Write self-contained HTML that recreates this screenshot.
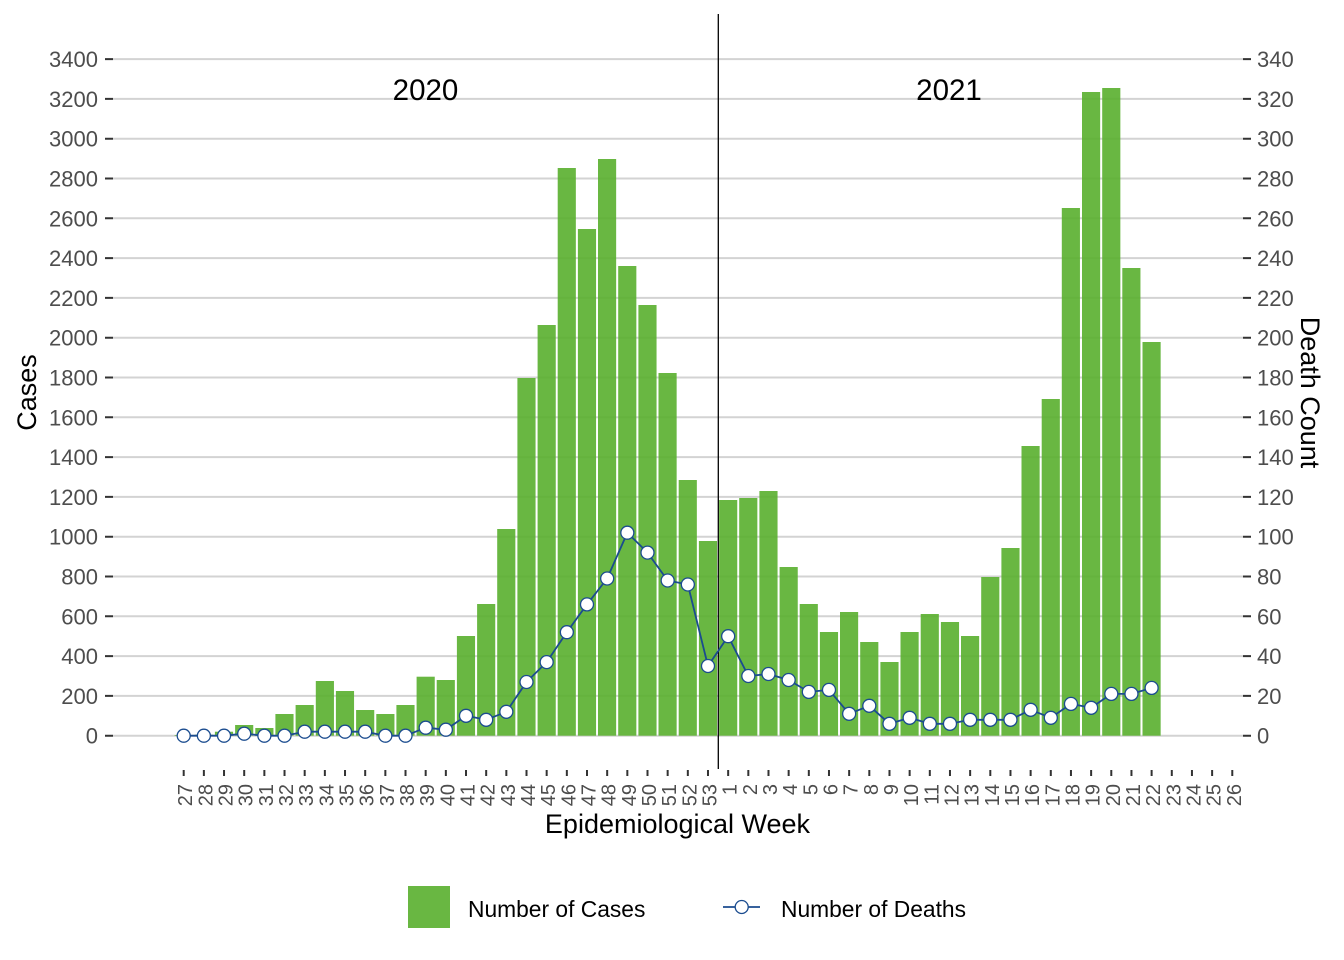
<!DOCTYPE html>
<html><head><meta charset="utf-8"><style>
html,body{margin:0;padding:0;background:#fff;}
svg{display:block;font-family:"Liberation Sans",Arial,sans-serif;}
</style></head><body>
<svg width="1344" height="960" viewBox="0 0 1344 960" xmlns="http://www.w3.org/2000/svg">
<rect width="1344" height="960" fill="#fff"/>
<g stroke="#d3d3d3" stroke-width="2">
<line x1="113" x2="1243" y1="735.7" y2="735.7"/>
<line x1="113" x2="1243" y1="695.9" y2="695.9"/>
<line x1="113" x2="1243" y1="656.1" y2="656.1"/>
<line x1="113" x2="1243" y1="616.3" y2="616.3"/>
<line x1="113" x2="1243" y1="576.5" y2="576.5"/>
<line x1="113" x2="1243" y1="536.7" y2="536.7"/>
<line x1="113" x2="1243" y1="496.9" y2="496.9"/>
<line x1="113" x2="1243" y1="457.1" y2="457.1"/>
<line x1="113" x2="1243" y1="417.3" y2="417.3"/>
<line x1="113" x2="1243" y1="377.5" y2="377.5"/>
<line x1="113" x2="1243" y1="337.7" y2="337.7"/>
<line x1="113" x2="1243" y1="297.9" y2="297.9"/>
<line x1="113" x2="1243" y1="258.1" y2="258.1"/>
<line x1="113" x2="1243" y1="218.3" y2="218.3"/>
<line x1="113" x2="1243" y1="178.5" y2="178.5"/>
<line x1="113" x2="1243" y1="138.7" y2="138.7"/>
<line x1="113" x2="1243" y1="98.9" y2="98.9"/>
<line x1="113" x2="1243" y1="59.1" y2="59.1"/>
</g>
<g fill="#59af2e" fill-opacity="0.9">
<rect x="174.6" y="735" width="18.15" height="0.7"/>
<rect x="194.8" y="734.7" width="18.15" height="1"/>
<rect x="214.9" y="731.7" width="18.15" height="4"/>
<rect x="235.1" y="725" width="18.15" height="10.7"/>
<rect x="255.3" y="728" width="18.15" height="7.7"/>
<rect x="275.4" y="714" width="18.15" height="21.7"/>
<rect x="295.6" y="705" width="18.15" height="30.7"/>
<rect x="315.8" y="681" width="18.15" height="54.7"/>
<rect x="335.9" y="691" width="18.15" height="44.7"/>
<rect x="356.1" y="710" width="18.15" height="25.7"/>
<rect x="376.3" y="714" width="18.15" height="21.7"/>
<rect x="396.4" y="705" width="18.15" height="30.7"/>
<rect x="416.6" y="676.7" width="18.15" height="59"/>
<rect x="436.7" y="680" width="18.15" height="55.7"/>
<rect x="456.9" y="636" width="18.15" height="99.7"/>
<rect x="477.1" y="604" width="18.15" height="131.7"/>
<rect x="497.2" y="529" width="18.15" height="206.7"/>
<rect x="517.4" y="378" width="18.15" height="357.7"/>
<rect x="537.6" y="325" width="18.15" height="410.7"/>
<rect x="557.7" y="168" width="18.15" height="567.7"/>
<rect x="577.9" y="229" width="18.15" height="506.7"/>
<rect x="598.0" y="159" width="18.15" height="576.7"/>
<rect x="618.2" y="266" width="18.15" height="469.7"/>
<rect x="638.4" y="305" width="18.15" height="430.7"/>
<rect x="658.5" y="373" width="18.15" height="362.7"/>
<rect x="678.7" y="480" width="18.15" height="255.7"/>
<rect x="698.9" y="541" width="18.15" height="194.7"/>
<rect x="719.1" y="500" width="18.15" height="235.7"/>
<rect x="739.2" y="498" width="18.15" height="237.7"/>
<rect x="759.4" y="491" width="18.15" height="244.7"/>
<rect x="779.6" y="567" width="18.15" height="168.7"/>
<rect x="799.7" y="604" width="18.15" height="131.7"/>
<rect x="819.9" y="632" width="18.15" height="103.7"/>
<rect x="840.0" y="612" width="18.15" height="123.7"/>
<rect x="860.2" y="642" width="18.15" height="93.7"/>
<rect x="880.4" y="662" width="18.15" height="73.7"/>
<rect x="900.5" y="632" width="18.15" height="103.7"/>
<rect x="920.7" y="614" width="18.15" height="121.7"/>
<rect x="940.9" y="622" width="18.15" height="113.7"/>
<rect x="961.0" y="636" width="18.15" height="99.7"/>
<rect x="981.2" y="577" width="18.15" height="158.7"/>
<rect x="1001.4" y="548" width="18.15" height="187.7"/>
<rect x="1021.5" y="446" width="18.15" height="289.7"/>
<rect x="1041.7" y="399" width="18.15" height="336.7"/>
<rect x="1061.8" y="208" width="18.15" height="527.7"/>
<rect x="1082.0" y="92" width="18.15" height="643.7"/>
<rect x="1102.2" y="88" width="18.15" height="647.7"/>
<rect x="1122.3" y="268" width="18.15" height="467.7"/>
<rect x="1142.5" y="342" width="18.15" height="393.7"/>
</g>
<line x1="718.3" x2="718.3" y1="14" y2="769" stroke="#000" stroke-width="1.3"/>
<polyline fill="none" stroke="#1b4c8f" stroke-width="1.8" stroke-linejoin="round" points="183.7,735.7 203.87,735.7 224.03,735.7 244.2,733.7 264.36,735.7 284.53,735.7 304.69,731.7 324.86,731.7 345.02,731.7 365.19,731.7 385.35,735.7 405.52,735.7 425.68,727.7 445.85,729.7 466.01,715.8 486.18,719.8 506.34,711.8 526.51,682.0 546.67,662.1 566.84,632.2 587.0,604.4 607.17,578.5 627.33,532.7 647.5,552.6 667.66,580.5 687.83,584.5 707.99,666.0 728.16,636.2 748.32,676.0 768.49,674.0 788.65,680.0 808.82,691.9 828.98,689.9 849.15,713.8 869.31,705.8 889.48,723.8 909.64,717.8 929.81,723.8 949.97,723.8 970.14,719.8 990.3,719.8 1010.47,719.8 1030.63,709.8 1050.8,717.8 1070.96,703.9 1091.13,707.8 1111.29,693.9 1131.46,693.9 1151.62,687.9"/>
<g fill="#fff" stroke="#1b4c8f" stroke-width="1.3">
<circle cx="183.7" cy="735.7" r="6.5"/>
<circle cx="203.87" cy="735.7" r="6.5"/>
<circle cx="224.03" cy="735.7" r="6.5"/>
<circle cx="244.2" cy="733.7" r="6.5"/>
<circle cx="264.36" cy="735.7" r="6.5"/>
<circle cx="284.53" cy="735.7" r="6.5"/>
<circle cx="304.69" cy="731.7" r="6.5"/>
<circle cx="324.86" cy="731.7" r="6.5"/>
<circle cx="345.02" cy="731.7" r="6.5"/>
<circle cx="365.19" cy="731.7" r="6.5"/>
<circle cx="385.35" cy="735.7" r="6.5"/>
<circle cx="405.52" cy="735.7" r="6.5"/>
<circle cx="425.68" cy="727.7" r="6.5"/>
<circle cx="445.85" cy="729.7" r="6.5"/>
<circle cx="466.01" cy="715.8" r="6.5"/>
<circle cx="486.18" cy="719.8" r="6.5"/>
<circle cx="506.34" cy="711.8" r="6.5"/>
<circle cx="526.51" cy="682.0" r="6.5"/>
<circle cx="546.67" cy="662.1" r="6.5"/>
<circle cx="566.84" cy="632.2" r="6.5"/>
<circle cx="587.0" cy="604.4" r="6.5"/>
<circle cx="607.17" cy="578.5" r="6.5"/>
<circle cx="627.33" cy="532.7" r="6.5"/>
<circle cx="647.5" cy="552.6" r="6.5"/>
<circle cx="667.66" cy="580.5" r="6.5"/>
<circle cx="687.83" cy="584.5" r="6.5"/>
<circle cx="707.99" cy="666.0" r="6.5"/>
<circle cx="728.16" cy="636.2" r="6.5"/>
<circle cx="748.32" cy="676.0" r="6.5"/>
<circle cx="768.49" cy="674.0" r="6.5"/>
<circle cx="788.65" cy="680.0" r="6.5"/>
<circle cx="808.82" cy="691.9" r="6.5"/>
<circle cx="828.98" cy="689.9" r="6.5"/>
<circle cx="849.15" cy="713.8" r="6.5"/>
<circle cx="869.31" cy="705.8" r="6.5"/>
<circle cx="889.48" cy="723.8" r="6.5"/>
<circle cx="909.64" cy="717.8" r="6.5"/>
<circle cx="929.81" cy="723.8" r="6.5"/>
<circle cx="949.97" cy="723.8" r="6.5"/>
<circle cx="970.14" cy="719.8" r="6.5"/>
<circle cx="990.3" cy="719.8" r="6.5"/>
<circle cx="1010.47" cy="719.8" r="6.5"/>
<circle cx="1030.63" cy="709.8" r="6.5"/>
<circle cx="1050.8" cy="717.8" r="6.5"/>
<circle cx="1070.96" cy="703.9" r="6.5"/>
<circle cx="1091.13" cy="707.8" r="6.5"/>
<circle cx="1111.29" cy="693.9" r="6.5"/>
<circle cx="1131.46" cy="693.9" r="6.5"/>
<circle cx="1151.62" cy="687.9" r="6.5"/>
</g>
<g stroke="#333" stroke-width="2">
<path d="M105 735.7H113M105 695.9H113M105 656.1H113M105 616.3H113M105 576.5H113M105 536.7H113M105 496.9H113M105 457.1H113M105 417.3H113M105 377.5H113M105 337.7H113M105 297.9H113M105 258.1H113M105 218.3H113M105 178.5H113M105 138.7H113M105 98.9H113M105 59.1H113"/>
<path d="M1243 735.7H1251M1243 695.9H1251M1243 656.1H1251M1243 616.3H1251M1243 576.5H1251M1243 536.7H1251M1243 496.9H1251M1243 457.1H1251M1243 417.3H1251M1243 377.5H1251M1243 337.7H1251M1243 297.9H1251M1243 258.1H1251M1243 218.3H1251M1243 178.5H1251M1243 138.7H1251M1243 98.9H1251M1243 59.1H1251"/>
<path d="M183.7 770V776M203.87 770V776M224.03 770V776M244.2 770V776M264.36 770V776M284.53 770V776M304.69 770V776M324.86 770V776M345.02 770V776M365.19 770V776M385.35 770V776M405.52 770V776M425.68 770V776M445.85 770V776M466.01 770V776M486.18 770V776M506.34 770V776M526.51 770V776M546.67 770V776M566.84 770V776M587.0 770V776M607.17 770V776M627.33 770V776M647.5 770V776M667.66 770V776M687.83 770V776M707.99 770V776M728.16 770V776M748.32 770V776M768.49 770V776M788.65 770V776M808.82 770V776M828.98 770V776M849.15 770V776M869.31 770V776M889.48 770V776M909.64 770V776M929.81 770V776M949.97 770V776M970.14 770V776M990.3 770V776M1010.47 770V776M1030.63 770V776M1050.8 770V776M1070.96 770V776M1091.13 770V776M1111.29 770V776M1131.46 770V776M1151.62 770V776M1171.79 770V776M1191.95 770V776M1212.12 770V776M1232.28 770V776"/>
</g>
<g font-size="22" fill="#4d4d4d" text-anchor="end">
<text x="98" y="743.7">0</text>
<text x="98" y="703.9">200</text>
<text x="98" y="664.1">400</text>
<text x="98" y="624.3">600</text>
<text x="98" y="584.5">800</text>
<text x="98" y="544.7">1000</text>
<text x="98" y="504.9">1200</text>
<text x="98" y="465.1">1400</text>
<text x="98" y="425.3">1600</text>
<text x="98" y="385.5">1800</text>
<text x="98" y="345.7">2000</text>
<text x="98" y="305.9">2200</text>
<text x="98" y="266.1">2400</text>
<text x="98" y="226.3">2600</text>
<text x="98" y="186.5">2800</text>
<text x="98" y="146.7">3000</text>
<text x="98" y="106.9">3200</text>
<text x="98" y="67.1">3400</text>
</g>
<g font-size="22" fill="#4d4d4d" text-anchor="start">
<text x="1257" y="743.7">0</text>
<text x="1257" y="703.9">20</text>
<text x="1257" y="664.1">40</text>
<text x="1257" y="624.3">60</text>
<text x="1257" y="584.5">80</text>
<text x="1257" y="544.7">100</text>
<text x="1257" y="504.9">120</text>
<text x="1257" y="465.1">140</text>
<text x="1257" y="425.3">160</text>
<text x="1257" y="385.5">180</text>
<text x="1257" y="345.7">200</text>
<text x="1257" y="305.9">220</text>
<text x="1257" y="266.1">240</text>
<text x="1257" y="226.3">260</text>
<text x="1257" y="186.5">280</text>
<text x="1257" y="146.7">300</text>
<text x="1257" y="106.9">320</text>
<text x="1257" y="67.1">340</text>
</g>
<g font-size="20" fill="#4d4d4d" text-anchor="end">
<text transform="translate(192.2,784) rotate(-90)">27</text>
<text transform="translate(212.37,784) rotate(-90)">28</text>
<text transform="translate(232.53,784) rotate(-90)">29</text>
<text transform="translate(252.7,784) rotate(-90)">30</text>
<text transform="translate(272.86,784) rotate(-90)">31</text>
<text transform="translate(293.03,784) rotate(-90)">32</text>
<text transform="translate(313.19,784) rotate(-90)">33</text>
<text transform="translate(333.36,784) rotate(-90)">34</text>
<text transform="translate(353.52,784) rotate(-90)">35</text>
<text transform="translate(373.69,784) rotate(-90)">36</text>
<text transform="translate(393.85,784) rotate(-90)">37</text>
<text transform="translate(414.02,784) rotate(-90)">38</text>
<text transform="translate(434.18,784) rotate(-90)">39</text>
<text transform="translate(454.35,784) rotate(-90)">40</text>
<text transform="translate(474.51,784) rotate(-90)">41</text>
<text transform="translate(494.68,784) rotate(-90)">42</text>
<text transform="translate(514.84,784) rotate(-90)">43</text>
<text transform="translate(535.01,784) rotate(-90)">44</text>
<text transform="translate(555.17,784) rotate(-90)">45</text>
<text transform="translate(575.34,784) rotate(-90)">46</text>
<text transform="translate(595.5,784) rotate(-90)">47</text>
<text transform="translate(615.67,784) rotate(-90)">48</text>
<text transform="translate(635.83,784) rotate(-90)">49</text>
<text transform="translate(656.0,784) rotate(-90)">50</text>
<text transform="translate(676.16,784) rotate(-90)">51</text>
<text transform="translate(696.33,784) rotate(-90)">52</text>
<text transform="translate(716.49,784) rotate(-90)">53</text>
<text transform="translate(736.66,784) rotate(-90)">1</text>
<text transform="translate(756.82,784) rotate(-90)">2</text>
<text transform="translate(776.99,784) rotate(-90)">3</text>
<text transform="translate(797.15,784) rotate(-90)">4</text>
<text transform="translate(817.32,784) rotate(-90)">5</text>
<text transform="translate(837.48,784) rotate(-90)">6</text>
<text transform="translate(857.65,784) rotate(-90)">7</text>
<text transform="translate(877.81,784) rotate(-90)">8</text>
<text transform="translate(897.98,784) rotate(-90)">9</text>
<text transform="translate(918.14,784) rotate(-90)">10</text>
<text transform="translate(938.31,784) rotate(-90)">11</text>
<text transform="translate(958.47,784) rotate(-90)">12</text>
<text transform="translate(978.64,784) rotate(-90)">13</text>
<text transform="translate(998.8,784) rotate(-90)">14</text>
<text transform="translate(1018.97,784) rotate(-90)">15</text>
<text transform="translate(1039.13,784) rotate(-90)">16</text>
<text transform="translate(1059.3,784) rotate(-90)">17</text>
<text transform="translate(1079.46,784) rotate(-90)">18</text>
<text transform="translate(1099.63,784) rotate(-90)">19</text>
<text transform="translate(1119.79,784) rotate(-90)">20</text>
<text transform="translate(1139.96,784) rotate(-90)">21</text>
<text transform="translate(1160.12,784) rotate(-90)">22</text>
<text transform="translate(1180.29,784) rotate(-90)">23</text>
<text transform="translate(1200.45,784) rotate(-90)">24</text>
<text transform="translate(1220.62,784) rotate(-90)">25</text>
<text transform="translate(1240.78,784) rotate(-90)">26</text>
</g>
<g font-size="29.5" fill="#000" text-anchor="middle">
<text x="425.5" y="100">2020</text>
<text x="949" y="100">2021</text>
</g>
<g font-size="27" fill="#000" text-anchor="middle">
<text x="677.5" y="833">Epidemiological Week</text>
<text transform="translate(36,392.5) rotate(-90)">Cases</text>
<text transform="translate(1301,392.5) rotate(90)">Death Count</text>
</g>
<rect x="408" y="886" width="42" height="42" fill="#59af2e" fill-opacity="0.9"/>
<text x="468" y="917" font-size="22.8" fill="#000">Number of Cases</text>
<line x1="723" x2="760" y1="907" y2="907" stroke="#1b4c8f" stroke-width="1.8"/>
<circle cx="741.7" cy="907" r="6.5" fill="#fff" stroke="#1b4c8f" stroke-width="1.3"/>
<text x="781" y="917" font-size="22.8" fill="#000">Number of Deaths</text>
</svg>
</body></html>
